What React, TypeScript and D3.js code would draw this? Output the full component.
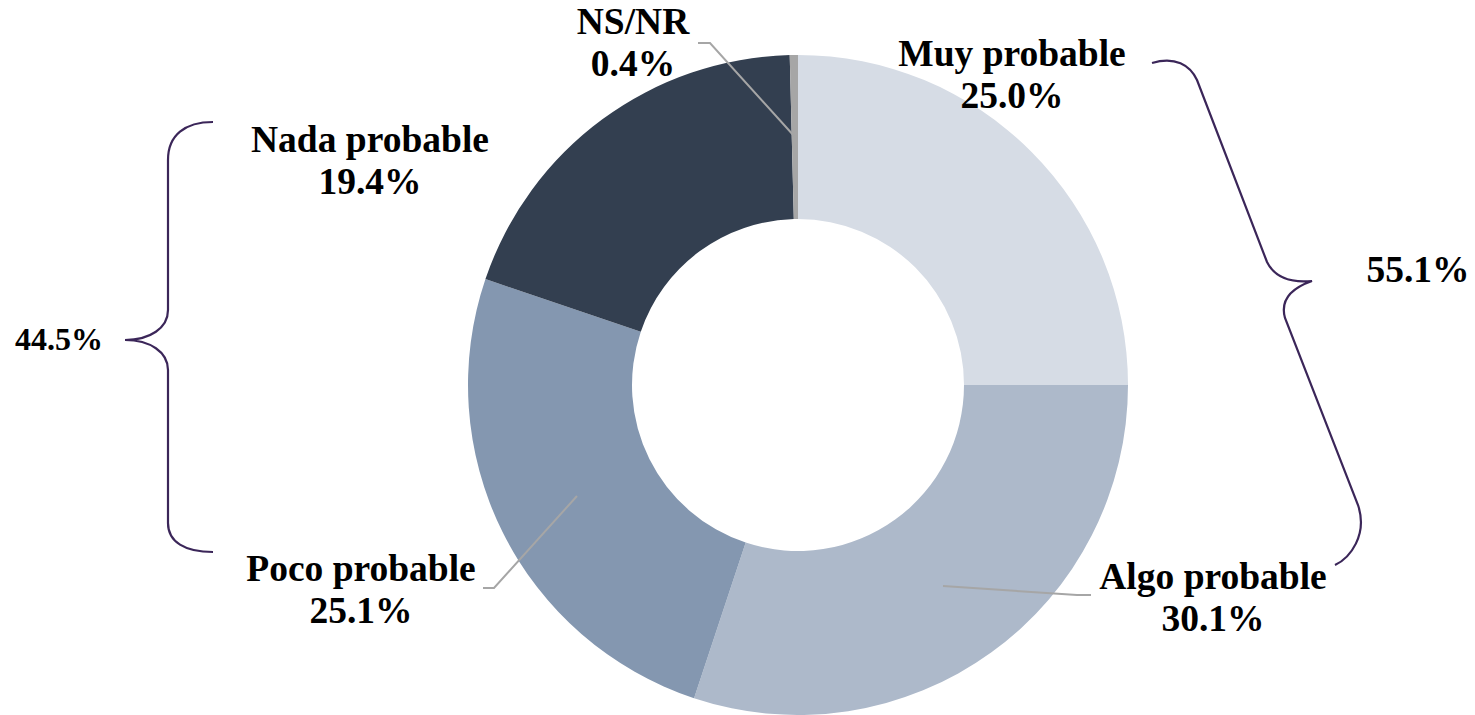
import React from "react";
import * as d3 from "d3";

const categories = ["Muy probable", "Algo probable", "Poco probable", "Nada probable", "NS/NR"];
const values = [25.0, 30.1, 25.1, 19.4, 0.4];
const colors = ["#d6dce5", "#adb9ca", "#8497b0", "#333f50", "#a6a6a6"];
const groupLabels = ["55.1%", "44.5%"];

// label layout (center x, first line baseline y)
const labelPos = [
  { x: 1012, y: 66 },
  { x: 1213, y: 589 },
  { x: 361, y: 581 },
  { x: 370, y: 152 },
  { x: 633, y: 34 },
];

const W = 1475;
const H = 715;
const cx = 798;
const cy = 385;
const rOuter = 330;
const rInner = 166;

export default function App() {
  const pie = d3
    .pie<number>()
    .sort(null)
    .value((d) => d)
    .startAngle(0)
    .endAngle(2 * Math.PI);
  const arcs = pie(values);
  const arc = d3.arc<d3.PieArcDatum<number>>().innerRadius(rInner).outerRadius(rOuter);

  const font = "Liberation Serif";
  const fs = 37.5;
  const lineH = 42;

  const leaders = [
    "M943,586 L1077,595 L1091,595",
    "M577,496 L494,588 L483,588",
    "M795,137 L710,43 L698,43",
  ];

  const rightBrace =
    "M1152,63 C1175,56 1190,65 1197,80 L1267,262 C1275,278 1292,283 1312,281 C1292,288 1280,300 1285,318 L1358,505 C1368,535 1350,558 1335,565";
  const leftBrace =
    "M213,122 C185,122 168,135 168,160 L168,310 C168,328 150,340 125,340 C150,340 168,352 168,370 L168,523 C168,542 185,552 213,552";

  return (
    <svg
      width={W}
      height={H}
      style={{ position: "absolute", left: 0, top: 0, background: "#fff" }}
    >
      <g transform={`translate(${cx},${cy})`}>
        {arcs.map((a, i) => (
          <path key={i} d={arc(a) || ""} fill={colors[i]} />
        ))}
      </g>
      {leaders.map((d, i) => (
        <path key={i} d={d} fill="none" stroke="#a6a6a6" strokeWidth={2} />
      ))}
      {categories.map((c, i) => (
        <text
          key={c}
          x={labelPos[i].x}
          y={labelPos[i].y}
          textAnchor="middle"
          fontFamily={font}
          fontWeight="bold"
          fontSize={fs}
          fill="#000"
        >
          <tspan x={labelPos[i].x}>{c}</tspan>
          <tspan x={labelPos[i].x} dy={lineH}>
            {values[i].toFixed(1) + "%"}
          </tspan>
        </text>
      ))}
      <path d={rightBrace} fill="none" stroke="#3b2659" strokeWidth={2.2} />
      <path d={leftBrace} fill="none" stroke="#3b2659" strokeWidth={2.2} />
      <text x={1418} y={282} textAnchor="middle" fontFamily={font} fontWeight="bold" fontSize={fs}>
        {groupLabels[0]}
      </text>
      <text x={59} y={350} textAnchor="middle" fontFamily={font} fontWeight="bold" fontSize={32}>
        {groupLabels[1]}
      </text>
    </svg>
  );
}
